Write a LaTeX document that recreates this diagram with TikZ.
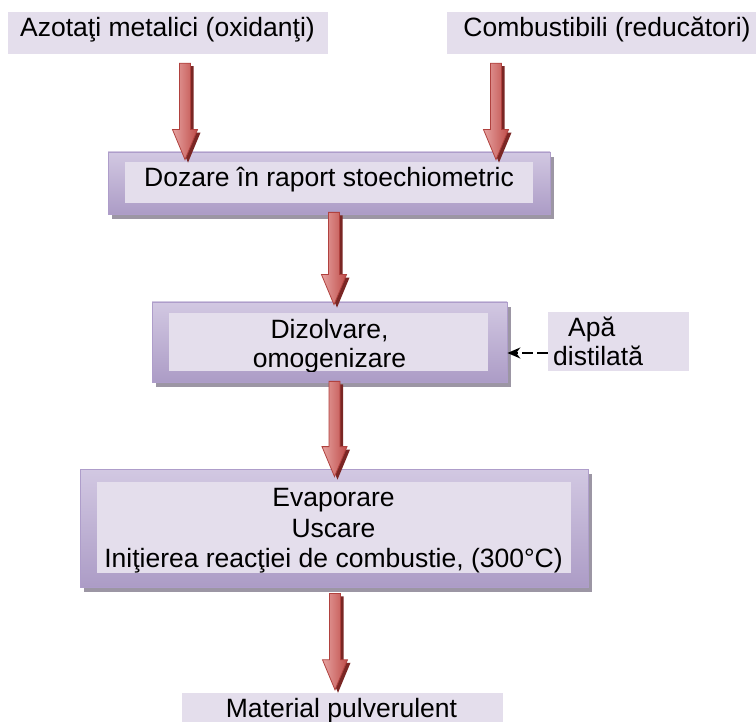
\documentclass[tikz,border=0pt]{standalone}
\usepackage{fontspec}
\setmainfont{Liberation Sans}
\usetikzlibrary{calc,shadows,arrows.meta}
\definecolor{labfill}{HTML}{E4DEEC}
\definecolor{innerfill}{HTML}{E4DEEC}
\definecolor{bandtop}{HTML}{D2C8E2}
\definecolor{bandbot}{HTML}{AC9CC6}
\definecolor{bandedge}{HTML}{AE9DCA}
\definecolor{shadowgrey}{HTML}{9C96A4}
\definecolor{arrlight}{HTML}{E6A3A1}
\definecolor{arrred}{HTML}{BF4C49}
\definecolor{arredge}{HTML}{B0413E}
\definecolor{arrshadow}{HTML}{7A2624}
\tikzset{
  lab/.style={fill=labfill, inner sep=0pt},
  procouter/.style={draw=bandedge, line width=0.8pt, top color=bandtop, bottom color=bandbot,
    inner sep=0pt, drop shadow={shadow xshift=4pt, shadow yshift=-5pt, fill=shadowgrey, opacity=1}},
  procinner/.style={fill=innerfill, inner sep=0pt},
  txt/.style={inner sep=0pt, font=\fontsize{26.5}{30}\selectfont, anchor=base},
  arrbody/.style={draw=arredge, line width=0.8pt, left color=arrlight, right color=arrred},
  dasharrow/.style={line width=1.5pt, dash pattern=on 11pt off 4pt, -{Stealth[length=13pt,width=11pt]}}
}
\newcommand{\redarrow}[2]{%
  \fill[arrshadow] let \p1=(#1), \p2=(#2) in
    (\x1-2.5pt,\y1-3pt) -- (\x1+8.5pt,\y1-3pt) -- (\x1+8.5pt,\y2+27pt) -- (\x1+15.5pt,\y2+27pt)
    -- (\x1+3pt,\y2-3pt) -- (\x1-9.5pt,\y2+27pt) -- (\x1-2.5pt,\y2+27pt) -- cycle;
  \draw[arrbody] let \p1=(#1), \p2=(#2) in
    (\x1-5.5pt,\y1) -- (\x1+5.5pt,\y1) -- (\x1+5.5pt,\y2+30pt) -- (\x1+12.5pt,\y2+30pt)
    -- (\x1,\y2) -- (\x1-12.5pt,\y2+30pt) -- (\x1-5.5pt,\y2+30pt) -- cycle;
}
\begin{document}
\begin{tikzpicture}[x=1pt,y=-1pt]
\fill[white] (0,0) rectangle (756,722);
\useasboundingbox (0,0) rectangle (756,722);

% input / output labels
\node[lab, minimum width=320pt, minimum height=42pt] (l1) at (168,33) {};
\node[lab, minimum width=309pt, minimum height=42pt] (l2) at (601.5,33) {};
\node[lab, minimum width=141pt, minimum height=59pt] (apa) at (618.5,341.5) {};
\node[lab, minimum width=321pt, minimum height=31pt] (mat) at (342.5,708.5) {};

% process boxes
\node[procouter, minimum width=442pt, minimum height=62pt] (b1) at (329,183) {};
\node[procinner, minimum width=408pt, minimum height=41pt] (b1in) at (329,182.5) {};
\node[procouter, minimum width=355pt, minimum height=80pt] (b2) at (329.5,342) {};
\node[procinner, minimum width=319pt, minimum height=58pt] (b2in) at (328.5,342) {};
\node[procouter, minimum width=508pt, minimum height=118pt] (b3) at (334,528) {};
\node[procinner, minimum width=474pt, minimum height=91pt] (b3in) at (334,527.5) {};

% texts
\node[txt] (t1) at (167.5,37) {Azotaţi metalici (oxidanţi)};
\node[txt] (t2) at (607,37) {Combustibili (reducători)};
\node[txt] (tb1) at (329,187) {Dozare în raport stoechiometric};
\node[txt] (tb2a) at (329.5,339) {Dizolvare,};
\begin{scope}
  \clip (b2in.south west) rectangle (b2in.north east);
  \node[txt] (tb2b) at (329.5,368) {omogenizare};
\end{scope}
\node[txt, anchor=base west] (tapa1) at (568,337) {Apă};
\node[txt, anchor=base west] (tapa2) at (553,366) {distilată};
\node[txt] (tb3a) at (333.5,506) {Evaporare};
\node[txt] (tb3b) at (333.5,537) {Uscare};
\node[txt] (tb3c) at (333.5,567) {Iniţierea reacţiei de combustie, (300°C)};
\node[txt] (tmat) at (341.5,717) {Material pulverulent};

% arrow end points
\coordinate (a1s) at ([xshift=17pt,yshift=-9pt]l1.south);
\coordinate (a1t) at ([xshift=-144pt,yshift=-8pt]b1.north);
\coordinate (a2s) at ([xshift=-105.5pt,yshift=-9pt]l2.south);
\coordinate (a2t) at ([xshift=167pt,yshift=-8pt]b1.north);
\coordinate (a3s) at ([xshift=5pt,yshift=2pt]b1.south);
\coordinate (a3t) at ([xshift=4.5pt,yshift=-3pt]b2.north);
\coordinate (a4s) at ([xshift=5pt,yshift=1pt]b2.south);
\coordinate (a4t) at ([xshift=0.5pt,yshift=-8pt]b3.north);
\coordinate (a5s) at ([xshift=1pt,yshift=-6pt]b3.south);
\coordinate (a5t) at ([xshift=-7.5pt,yshift=3pt]mat.north);

\redarrow{a1s}{a1t}
\redarrow{a2s}{a2t}
\redarrow{a3s}{a3t}
\redarrow{a4s}{a4t}
\redarrow{a5s}{a5t}

\draw[dasharrow] ([yshift=-11.5pt]apa.west) -- ([yshift=-11pt]b2.east);
\end{tikzpicture}
\end{document}
